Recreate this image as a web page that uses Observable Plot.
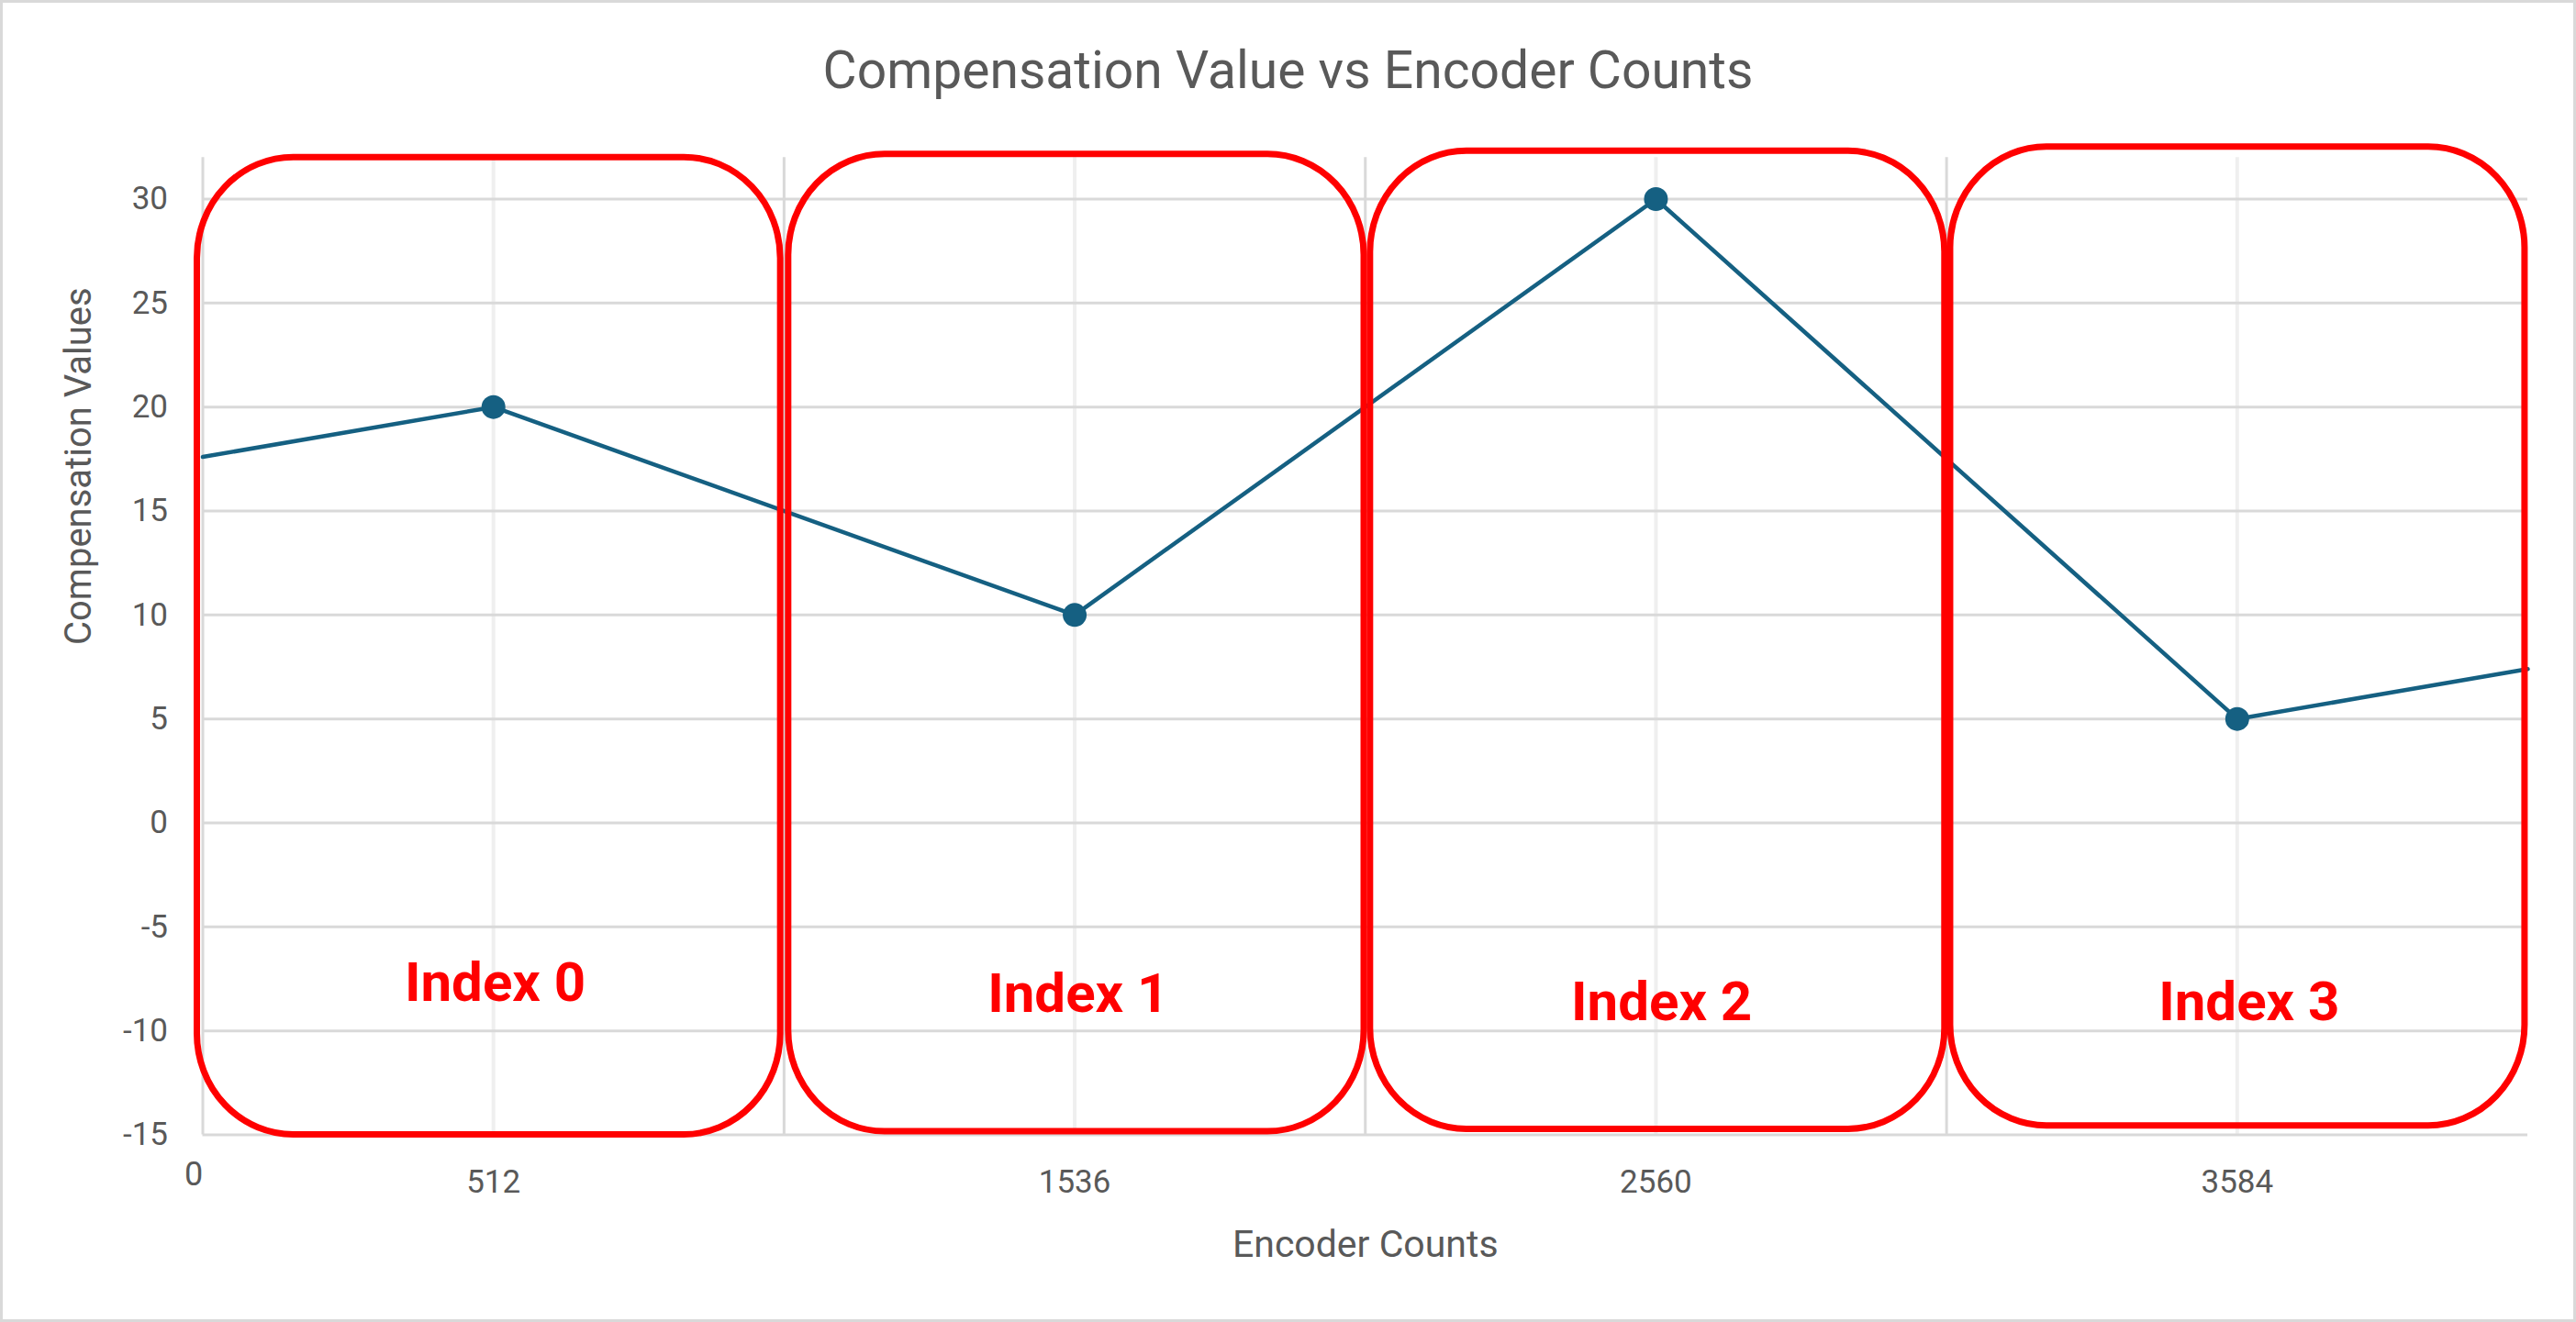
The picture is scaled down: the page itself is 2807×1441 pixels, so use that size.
<!DOCTYPE html>
<html>
<head>
<meta charset="utf-8">
<script src="https://cdn.jsdelivr.net/npm/d3@7"></script>
<script src="https://cdn.jsdelivr.net/npm/@observablehq/plot@0.6"></script>
<style>
  html, body { margin: 0; padding: 0; background: #ffffff; }
  #chart { position: relative; width: 2807px; height: 1441px; overflow: hidden; background: #ffffff; }
  #title { height: 120px; box-sizing: border-box; padding-top: 48px; text-align: center;
           font-family: Roboto, "Noto Sans", sans-serif; font-size: 57px; line-height: 57px; color: #595959; white-space: nowrap; }
  #frame { position: absolute; left: 0; top: 0; width: 2807px; height: 1441px; box-sizing: border-box;
           border: 3px solid #d9d9d9; pointer-events: none; }
  svg { display: block; }
</style>
</head>
<body>
<div id="chart">
  <div id="title">Compensation Value vs Encoder Counts</div>
  <div id="plot"></div>
  <div id="frame"></div>
</div>
<script>
// ---- data ----
const titleText = "Compensation Value vs Encoder Counts";
const xLabel = "Encoder Counts";
const yLabel = "Compensation Values";

const xTicks = [512, 1536, 2560, 3584];
const xZeroLabel = [0];
const yTicks = [-15, -10, -5, 0, 5, 10, 15, 20, 25, 30];
const dividerCounts = [0, 1024, 2048, 3072];
const gridTop = 32;

const pointCounts = [512, 1536, 2560, 3584];
const pointValues = [20, 10, 30, 5];
const lineCounts = [0, 512, 1536, 2560, 3584, 4096];
const lineValues = [17.6, 20, 10, 30, 5, 7.4];

const boxLabels = ["Index 0", "Index 1", "Index 2", "Index 3"];
const boxLeft = [-9.7, 1032, 2057, 3079];
const boxRight = [1018, 2046, 3069, 4091];
const boxTop = [32.0, 32.15, 32.3, 32.5];
const boxBottom = [-15.0, -14.85, -14.73, -14.57];
const labelX = [515, 1542, 2570, 3605];
const labelY = [-7.7, -8.25, -8.65, -8.65];

// ---- tables built from the arrays ----
const lineData = lineCounts.map((x, i) => ({x, y: lineValues[i]}));
const pointData = pointCounts.map((x, i) => ({x, y: pointValues[i]}));
const boxes = boxLabels.map((label, i) => ({
  label, x1: boxLeft[i], x2: boxRight[i], y1: boxBottom[i], y2: boxTop[i], lx: labelX[i], ly: labelY[i]
}));

const W = 2807, H = 1441 - 120;
const grey = "#d9d9d9", lightGrey = "#efefef", textCol = "#595959", lineCol = "#156082", red = "#ff0000";

const chart = Plot.plot({
  width: W,
  height: H,
  marginTop: 96.5,
  marginBottom: 204.5,
  marginLeft: 220.5,
  marginRight: 53,
  style: {fontFamily: "Roboto, 'Noto Sans', sans-serif", color: textCol, background: "transparent", overflow: "visible"},
  x: {domain: [0, 4096]},
  y: {domain: [-15, 30]},
  marks: [
    // light vertical gridlines at the tick positions
    Plot.ruleX(xTicks, {x: d => d, y1: -15, y2: gridTop, stroke: lightGrey, strokeWidth: 4}),
    // horizontal gridlines
    Plot.ruleY(yTicks, {y: d => d, stroke: grey, strokeWidth: 3}),
    // category dividers and left axis
    Plot.ruleX(dividerCounts, {x: d => d, y1: -15, y2: gridTop, stroke: grey, strokeWidth: 3}),
    // axes
    Plot.axisY({ticks: yTicks, tickSize: 0, tickPadding: 38, fontSize: 35, tickFormat: d => String(d), label: null}),
    Plot.axisX({ticks: xTicks, tickSize: 0, tickPadding: 38, fontSize: 35, tickFormat: d => String(d), label: null}),
    Plot.text(xZeroLabel, {x: d => d, frameAnchor: "bottom", lineAnchor: "middle", dy: 43, dx: -10, text: d => String(d), fontSize: 36, fill: textCol}),
    // axis titles
    Plot.text([xLabel], {frameAnchor: "bottom", lineAnchor: "middle", dy: 120, text: d => d, fontSize: 41, fill: textCol}),
    Plot.text([yLabel], {frameAnchor: "left", lineAnchor: "middle", dx: -134.5, dy: -24, rotate: -90, text: d => d, fontSize: 40, fill: textCol}),
    // data
    Plot.line(lineData, {x: "x", y: "y", stroke: lineCol, strokeWidth: 4.5}),
    Plot.dot(pointData, {x: "x", y: "y", r: 13, fill: lineCol, stroke: "none"}),
    // annotation boxes
    Plot.rect(boxes, {x1: "x1", x2: "x2", y1: "y1", y2: "y2", fill: "none", stroke: red, strokeWidth: 7, rx: 105, ry: 110}),
    Plot.text(boxes, {x: "lx", y: "ly", text: "label", fill: red, fontSize: 60, fontWeight: "bold"})
  ]
});
document.getElementById("plot").appendChild(chart);
</script>
</body>
</html>
